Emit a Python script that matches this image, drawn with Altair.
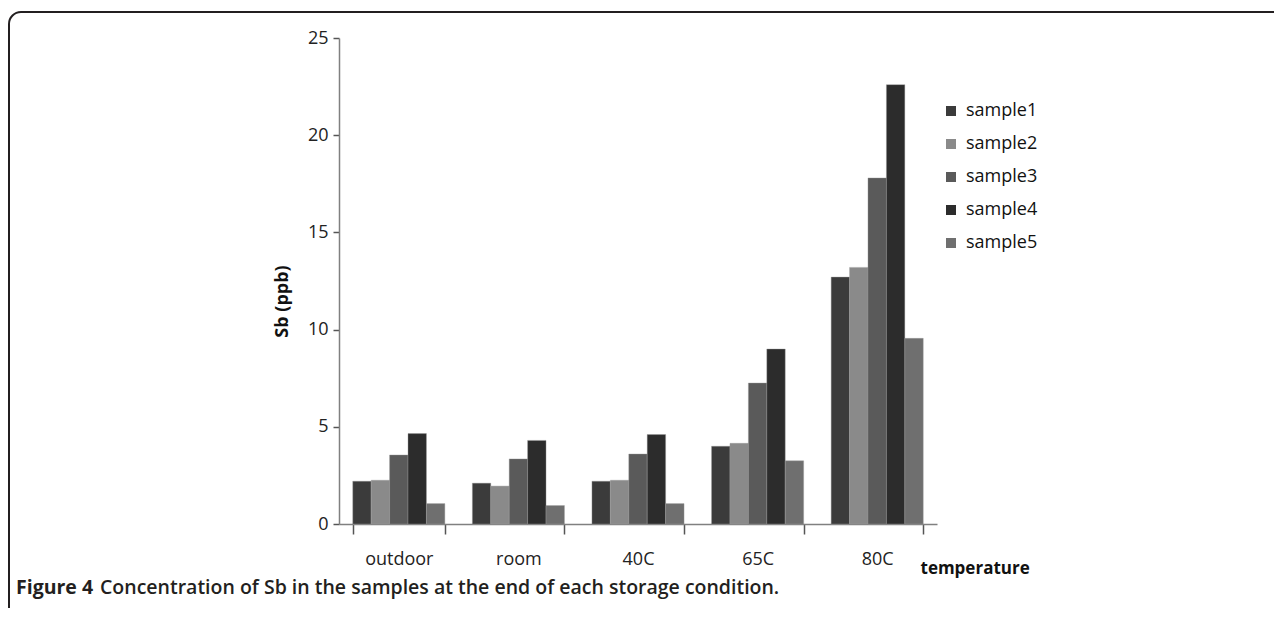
import altair as alt
import pandas as pd

conditions = ["outdoor", "room", "40C", "65C", "80C"]
samples = ["sample1", "sample2", "sample3", "sample4", "sample5"]
sample1 = [2.2, 2.1, 2.2, 4.0, 12.7]
sample2 = [2.25, 1.95, 2.25, 4.15, 13.2]
sample3 = [3.55, 3.35, 3.6, 7.25, 17.8]
sample4 = [4.65, 4.3, 4.6, 9.0, 22.6]
sample5 = [1.05, 0.95, 1.05, 3.25, 9.55]
colors = ["#3b3b3b", "#8a8a8a", "#5a5a5a", "#2c2c2c", "#6f6f6f"]

series = [sample1, sample2, sample3, sample4, sample5]
rows = []
for s, vals in zip(samples, series):
    for c, v in zip(conditions, vals):
        rows.append({"condition": c, "sample": s, "value": v})
df = pd.DataFrame(rows)

FONT = "Open Sans"
INK = "#231f20"

bars = alt.Chart(df).mark_bar(stroke="#9a9a9a", strokeWidth=0.4).encode(
    x=alt.X(
        "condition:N",
        sort=conditions,
        scale=alt.Scale(paddingInner=0.23, paddingOuter=0.115),
        axis=alt.Axis(
            title="temperature",
            titleFont=FONT,
            titleFontSize=17,
            titleFontWeight="bold",
            titleColor="#111111",
            titleX=581,
            titleY=49,
            titleAlign="left",
            titleBaseline="alphabetic",
            labelAngle=0,
            labelFont=FONT,
            labelFontSize=18,
            labelColor="#222222",
            labelPadding=16,
            tickBand="extent",
            tickSize=10,
            tickColor="#555555",
            tickWidth=1.5,
            domainColor="#808080",
            domainWidth=1.5,
        ),
    ),
    xOffset=alt.XOffset("sample:N", sort=samples),
    y=alt.Y(
        "value:Q",
        scale=alt.Scale(domain=[0, 25]),
        axis=alt.Axis(
            title="Sb (ppb)",
            titleFont=FONT,
            titleFontSize=18,
            titleFontWeight="bold",
            titleColor="#111111",
            titleAngle=270,
            titleX=-57,
            titleY=263,
            titleAlign="center",
            titleBaseline="middle",
            values=[0, 5, 10, 15, 20, 25],
            labelFont=FONT,
            labelFontSize=18,
            labelColor="#222222",
            labelPadding=5,
            tickSize=6,
            tickColor="#555555",
            tickWidth=1.5,
            domainColor="#808080",
            domainWidth=1.5,
            grid=False,
        ),
    ),
    color=alt.Color(
        "sample:N",
        sort=samples,
        scale=alt.Scale(domain=samples, range=colors),
        legend=alt.Legend(
            title=None,
            orient="none",
            legendX=603,
            legendY=64,
            symbolType="square",
            symbolSize=100,
            symbolStrokeWidth=0,
            labelFont=FONT,
            labelFontSize=18,
            labelColor="#111111",
            labelOffset=6,
            rowPadding=15,
        ),
    ),
)

one = pd.DataFrame({"k": [0]})

frame = alt.Chart(one).mark_rect(
    fillOpacity=0, stroke=INK, strokeWidth=2, cornerRadiusTopLeft=12
).encode(
    x=alt.value(-330), x2=alt.value(2000), y=alt.value(-26), y2=alt.value(2000)
)

cap_bold = alt.Chart(one).mark_text(
    text="Figure 4", font=FONT, fontSize=19.5, fontWeight="bold", color=INK,
    align="left", baseline="middle",
).encode(x=alt.value(-323), y=alt.value(550))

cap_rest = alt.Chart(one).mark_text(
    text="Concentration of Sb in the samples at the end of each storage condition.",
    font=FONT, fontSize=19.5, fontWeight=600, color=INK,
    align="left", baseline="middle",
).encode(x=alt.value(-239), y=alt.value(550))

chart = alt.layer(frame, bars, cap_bold, cap_rest).properties(
    width=598,
    height=486,
    autosize=alt.AutoSizeParams(type="none"),
    padding={"left": 331, "top": 30, "right": 337, "bottom": 84},
).configure(
    background="white",
    view=alt.ViewConfig(stroke=None),
)

chart.save("out.html", embed_options={"renderer": "svg", "actions": False})
